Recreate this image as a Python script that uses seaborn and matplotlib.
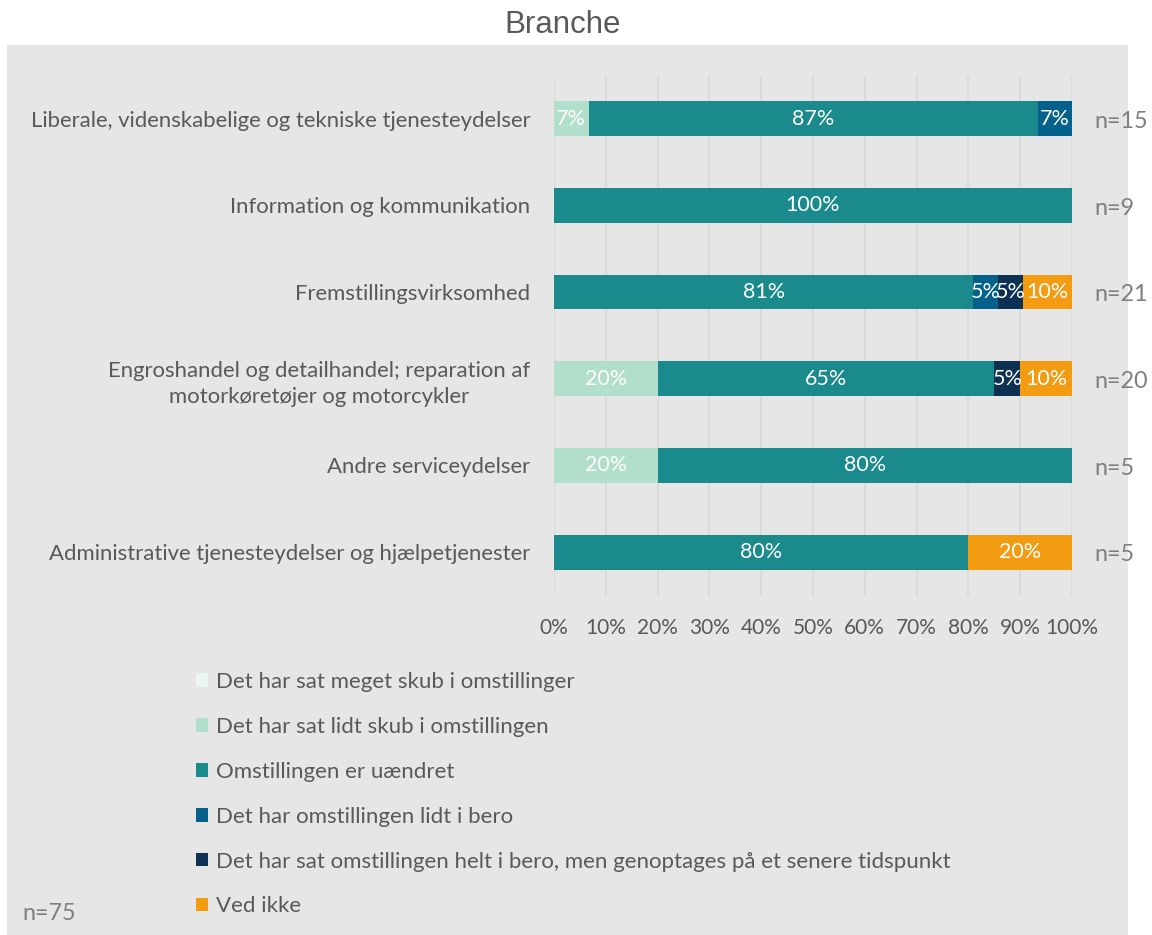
import matplotlib
matplotlib.use("Agg")
import matplotlib.pyplot as plt
from matplotlib.patches import Patch, Rectangle
import numpy as np
import pandas as pd
import seaborn as sns

# Industry categories (top to bottom) and number of respondents in each
branches = [
    "Liberale, videnskabelige og tekniske tjenesteydelser",
    "Information og kommunikation",
    "Fremstillingsvirksomhed",
    "Engroshandel og detailhandel; reparation af\nmotorkøretøjer og motorcykler",
    "Andre serviceydelser",
    "Administrative tjenesteydelser og hjælpetjenester",
]
n_counts = [15, 9, 21, 20, 5, 5]
n_total = 75

# Answer categories in stacking order
answers = [
    "Det har sat meget skub i omstillinger",
    "Det har sat lidt skub i omstillingen",
    "Omstillingen er uændret",
    "Det har omstillingen lidt i bero",
    "Det har sat omstillingen helt i bero, men genoptages på et senere tidspunkt",
    "Ved ikke",
]
colors = ["#ecf7f3", "#b2dfcb", "#1a8a8c", "#03618c", "#0c3152", "#f39c12"]

# Share of answers (%) per branch, one list per answer category
meget_skub = [0.0, 0.0, 0.0, 0.0, 0.0, 0.0]
lidt_skub = [6.67, 0.0, 0.0, 20.0, 20.0, 0.0]
uaendret = [86.67, 100.0, 80.95, 65.0, 80.0, 80.0]
lidt_bero = [6.67, 0.0, 4.76, 0.0, 0.0, 0.0]
helt_bero = [0.0, 0.0, 4.76, 5.0, 0.0, 0.0]
ved_ikke = [0.0, 0.0, 9.52, 10.0, 0.0, 20.0]

series = [meget_skub, lidt_skub, uaendret, lidt_bero, helt_bero, ved_ikke]

plt.rcParams["font.family"] = ["Lato", "DejaVu Sans"]
text_col = "#595959"
n_col = "#7f7f7f"
panel_col = "#e6e6e6"

W, H = 1152, 935
fig = plt.figure(figsize=(W / 100, H / 100), dpi=100)
fig.patch.set_facecolor("white")

# Grey panel behind the chart
fig.add_artist(Rectangle((7 / W, 0), (1128 - 7) / W, (H - 45) / H,
                         transform=fig.transFigure, facecolor=panel_col,
                         edgecolor="none", zorder=0))

ax = fig.add_axes([554 / W, 1 - 595.5 / H, (1072 - 554) / W, (595.5 - 75.5) / H])
ax.set_facecolor("none")

vals = np.array(series)            # shape (answers, branches)
cum = np.cumsum(vals, axis=0)
df = pd.DataFrame({"Branche": branches})
for i in range(len(answers)):
    df[f"cum{i}"] = cum[i]

# Stacked bars: draw cumulative totals from the outermost layer inwards
for i in reversed(range(len(answers))):
    sns.barplot(data=df, x=f"cum{i}", y="Branche", order=branches,
                color=colors[i], saturation=1, width=0.4, errorbar=None,
                linewidth=0, orient="h", ax=ax, zorder=3)

# Segment value labels
for i in range(len(answers)):
    for j in range(len(branches)):
        v = vals[i, j]
        if v > 0:
            ax.text(cum[i, j] - v / 2, j, f"{round(v):.0f}%", ha="center",
                    va="center", color="white", fontsize=15.5, zorder=5)

# Respondent counts to the right of each bar
for j, n in enumerate(n_counts):
    ax.text(104.4, j + 0.03, f"n={n}", ha="left", va="center", color=n_col,
            fontsize=16.8, clip_on=False)

ax.set_xlim(0, 100)
ax.set_xticks(np.arange(0, 101, 10))
ax.set_xticklabels([f"{t}%" for t in range(0, 101, 10)])
ax.set_xlabel("")
ax.set_ylabel("")
ax.grid(axis="x", color="#d9d9d9", linewidth=1.3, zorder=0)
ax.grid(axis="y", visible=False)
ax.set_axisbelow(True)
for s in ax.spines.values():
    s.set_visible(False)
ax.tick_params(axis="both", length=0, labelcolor=text_col)
ax.tick_params(axis="x", pad=16, labelsize=15)
ax.tick_params(axis="y", pad=17, labelsize=15.9)
for lab in ax.get_yticklabels():
    lab.set_multialignment("center")
    lab.set_linespacing(1.4)

# Title and footnote
fig.text(563 / W, 1 - 25 / H, "Branche", ha="center", va="center",
         fontsize=22.5, color=text_col, family=["Liberation Sans", "DejaVu Sans"])
fig.text(22 / W, 1 - 914 / H, f"n={n_total}", ha="left", va="center",
         fontsize=16.8, color=n_col)

handles = [Patch(facecolor=c, edgecolor="none") for c in colors]
fig.legend(handles, answers, loc="upper left", bbox_to_anchor=(196 / W, 1 - 672 / H),
           frameon=False, borderpad=0, borderaxespad=0, handlelength=0.55,
           handleheight=0.55, handletextpad=0.35, labelspacing=1.12,
           fontsize=16, labelcolor=text_col)

fig.savefig("out.png", dpi=100, facecolor=fig.get_facecolor())
